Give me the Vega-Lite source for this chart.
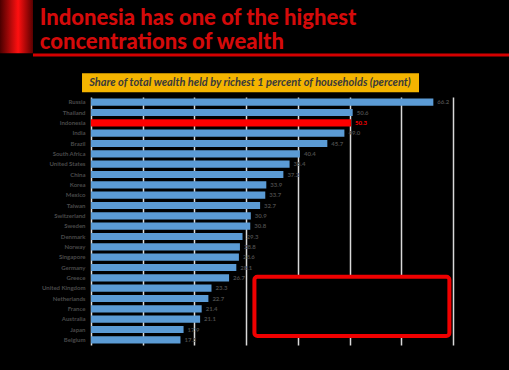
{
  "$schema": "https://vega.github.io/schema/vega-lite/v6.json",
  "background": "black",
  "padding": {"left": 0, "top": 0, "right": 0, "bottom": 25},
  "spacing": 0,
  "bounds": "full",
  "config": {"view": {"stroke": null}},
  "vconcat": [
    {
      "width": 418,
      "height": 97,
      "data": {"values": [{}]},
      "layer": [
        {
          "mark": {"type": "rect", "color": {"gradient": "linear", "x1": 0, "x2": 1, "y1": 0, "y2": 0, "stops": [{"offset": 0, "color": "#4a0000"}, {"offset": 0.55, "color": "#ff1010"}, {"offset": 1, "color": "#5a0000"}]}},
          "encoding": {
            "x": {"datum": -0.2177, "type": "quantitative", "scale": {"domain": [0, 1], "nice": false, "zero": false}, "axis": null},
            "x2": {"datum": -0.1388},
            "y": {"datum": 0, "type": "quantitative", "scale": {"domain": [0, 1], "nice": false, "zero": false, "reverse": true}, "axis": null},
            "y2": {"datum": 0.55}
          }
        },
        {
          "mark": {"type": "rule", "color": "#d40000", "strokeWidth": 3},
          "encoding": {
            "x": {"datum": -0.1388, "type": "quantitative"},
            "x2": {"datum": 1},
            "y": {"datum": 0.567, "type": "quantitative"}
          }
        },
        {
          "mark": {"type": "text", "text": "Indonesia has one of the highest", "align": "left", "baseline": "alphabetic", "font": "Lato", "fontWeight": 900, "fontSize": 22, "color": "#d40a0a"},
          "encoding": {
            "x": {"datum": -0.1225, "type": "quantitative"},
            "y": {"datum": 0.262, "type": "quantitative"}
          }
        },
        {
          "mark": {"type": "text", "text": "concentrations of wealth", "align": "left", "baseline": "alphabetic", "font": "Lato", "fontWeight": 900, "fontSize": 22, "color": "#d40a0a"},
          "encoding": {
            "x": {"datum": -0.1225, "type": "quantitative"},
            "y": {"datum": 0.5, "type": "quantitative"}
          }
        },
        {
          "mark": {"type": "rect", "color": "#f4b400"},
          "encoding": {
            "x": {"datum": -0.0215, "type": "quantitative"},
            "x2": {"datum": 0.7847},
            "y": {"datum": 0.755, "type": "quantitative"},
            "y2": {"datum": 0.95}
          }
        },
        {
          "mark": {"type": "text", "text": "Share of total wealth held by richest 1 percent of households (percent)", "align": "center", "baseline": "middle", "font": "Lato", "fontWeight": "bold", "fontStyle": "italic", "fontSize": 11, "color": "#3a3a3a"},
          "encoding": {
            "x": {"datum": 0.3804, "type": "quantitative"},
            "y": {"datum": 0.855, "type": "quantitative"}
          }
        }
      ]
    },
    {
      "width": 362,
      "height": 248,
      "resolve": {"scale": {"y": "independent"}},
      "layer": [
        {
          "data": {"values": [
            {"country": "Russia", "share": 66.2},
            {"country": "Thailand", "share": 50.6},
            {"country": "Indonesia", "share": 50.3},
            {"country": "India", "share": 49.0},
            {"country": "Brazil", "share": 45.7},
            {"country": "South Africa", "share": 40.4},
            {"country": "United States", "share": 38.4},
            {"country": "China", "share": 37.2},
            {"country": "Korea", "share": 33.9},
            {"country": "Mexico", "share": 33.7},
            {"country": "Taiwan", "share": 32.7},
            {"country": "Switzerland", "share": 30.9},
            {"country": "Sweden", "share": 30.8},
            {"country": "Denmark", "share": 29.3},
            {"country": "Norway", "share": 28.8},
            {"country": "Singapore", "share": 28.6},
            {"country": "Germany", "share": 28.1},
            {"country": "Greece", "share": 26.7},
            {"country": "United Kingdom", "share": 23.3},
            {"country": "Netherlands", "share": 22.7},
            {"country": "France", "share": 21.4},
            {"country": "Australia", "share": 21.1},
            {"country": "Japan", "share": 17.9},
            {"country": "Belgium", "share": 17.3}
          ]},
          "encoding": {
            "y": {"field": "country", "type": "nominal", "sort": null, "scale": {"paddingInner": 0.3, "paddingOuter": 0.15},
              "axis": {"title": null, "ticks": false, "domain": false, "labelPadding": 6, "labelFont": "Lato", "labelFontWeight": "bold", "labelFontSize": 6, "labelColor": "#4a4a4a", "minExtent": 91, "maxExtent": 91}},
            "x": {"field": "share", "type": "quantitative", "scale": {"domain": [0, 70], "nice": false},
              "axis": {"title": null, "labels": false, "ticks": false, "domain": false, "grid": true, "gridColor": "#d9d9d9", "gridWidth": 1.5, "values": [0, 10, 20, 30, 40, 50, 60, 70]}}
          },
          "layer": [
            {
              "mark": {"type": "bar"},
              "encoding": {
                "color": {"condition": {"test": "datum.country === 'Indonesia'", "value": "#ff0000"}, "value": "#5b9bd5"}
              }
            },
            {
              "mark": {"type": "text", "align": "left", "baseline": "middle", "dx": 4, "font": "Lato", "fontWeight": "bold", "fontSize": 6},
              "encoding": {
                "text": {"field": "share", "type": "quantitative", "format": ".1f"},
                "color": {"condition": {"test": "datum.country === 'Indonesia'", "value": "#ff0000"}, "value": "#4a4a4a"}
              }
            }
          ]
        },
        {
          "data": {"values": [{}]},
          "mark": {"type": "rect", "fill": "black", "stroke": "#f00000", "strokeWidth": 4, "cornerRadius": 3},
          "encoding": {
            "x": {"datum": 31.6, "type": "quantitative"},
            "x2": {"datum": 69.3},
            "y": {"datum": 0.7246, "type": "quantitative", "scale": {"domain": [0, 1], "nice": false, "zero": false, "reverse": true}, "axis": null},
            "y2": {"datum": 0.9637}
          }
        }
      ]
    }
  ]
}
